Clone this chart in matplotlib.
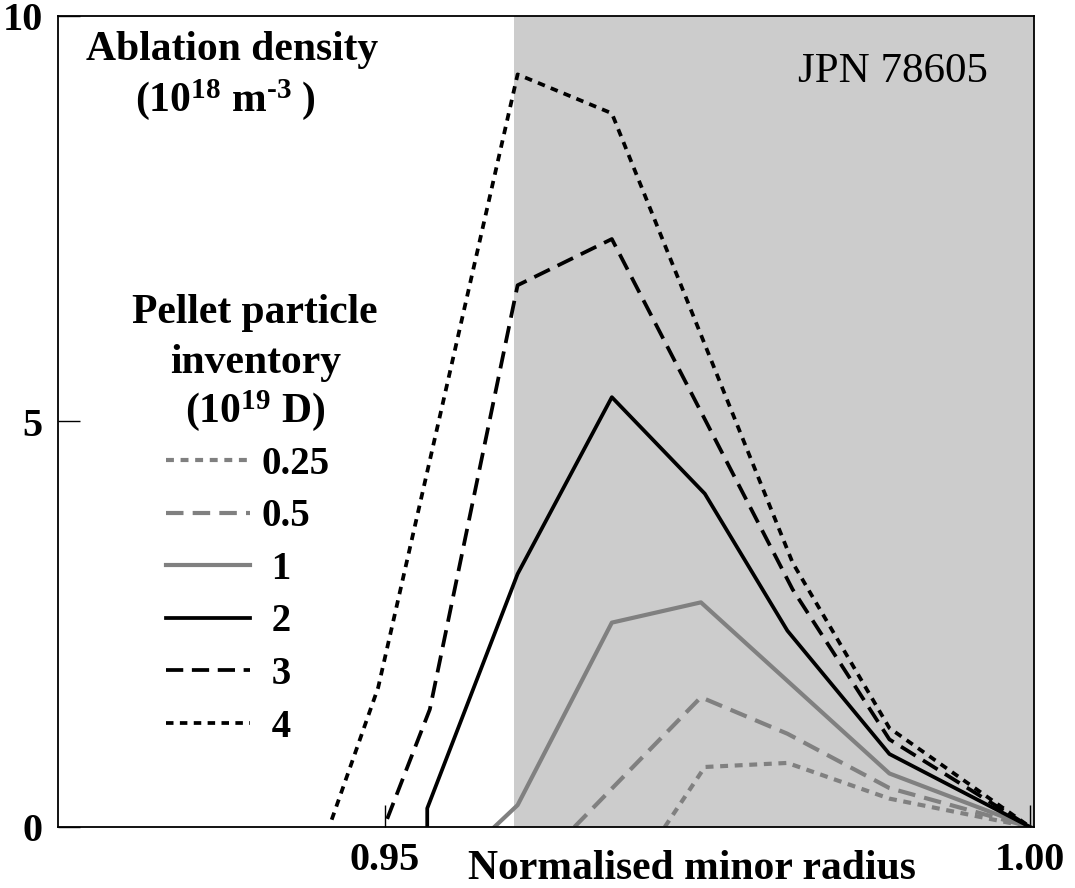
import matplotlib
matplotlib.use("Agg")
import matplotlib.pyplot as plt

plt.rcParams['font.family'] = ['Liberation Serif', 'DejaVu Serif']
plt.rcParams['font.weight'] = 'bold'
plt.rcParams['mathtext.fontset'] = 'custom'
plt.rcParams['mathtext.rm'] = 'Liberation Serif:bold'
plt.rcParams['mathtext.bf'] = 'Liberation Serif:bold'
plt.rcParams['mathtext.it'] = 'Liberation Serif:bold:italic'

# normalised minor radius / ablation density (1e18 m^-3), per pellet inventory (1e19 D)
r_025 = [0.9717, 0.9748, 0.9812, 0.9891, 1.0]
n_025 = [0.0, 0.74, 0.79, 0.35, 0.0]
r_05 = [0.9647, 0.9745, 0.9812, 0.9891, 1.0]
n_05 = [0.0, 1.60, 1.15, 0.48, 0.0]
r_1 = [0.9585, 0.9603, 0.9676, 0.9745, 0.9891, 1.0]
n_1 = [0.0, 0.27, 2.52, 2.77, 0.66, 0.0]
r_2 = [0.9533, 0.9533, 0.9603, 0.9676, 0.9748, 0.9812, 0.9891, 1.0]
n_2 = [0.0, 0.23, 3.12, 5.30, 4.11, 2.42, 0.90, 0.0]
r_3 = [0.9502, 0.9535, 0.9603, 0.9676, 0.9816, 0.9891, 1.0]
n_3 = [0.10, 1.45, 6.68, 7.25, 2.93, 1.08, 0.0]
r_4 = [0.9459, 0.9495, 0.9603, 0.9676, 0.9816, 0.9891, 1.0]
n_4 = [0.09, 1.72, 9.28, 8.80, 3.26, 1.22, 0.0]

labels = ['0.25', '0.5', ' 1', ' 2', ' 3', ' 4']
shade_start = 0.96

grey = '#808080'
fig = plt.figure(figsize=(10.75, 8.88), dpi=100)
ax = fig.add_axes([58/1075, 1 - 827/888, (1034 - 58)/1075, (827 - 16)/888])

ax.axvspan(shade_start, 1.0003, ymin=0.0, ymax=1.0, color='#cccccc', lw=0, zorder=0)

h = []
h += ax.plot(r_025, n_025, color=grey, lw=3.0, ls=(0, (1.9, 1.6)))
h += ax.plot(r_05, n_05, color=grey, lw=3.0, ls=(0, (4.2, 2.2)))
h += ax.plot(r_1, n_1, color=grey, lw=3.0)
h += ax.plot(r_2, n_2, color='black', lw=2.7)
h += ax.plot(r_3, n_3, color='black', lw=2.7, ls=(0, (4.6, 2.3)))
h += ax.plot(r_4, n_4, color='black', lw=2.7, ls=(0, (2.0, 1.7)))

ax.set_xlim(0.9247, 1.0003)
ax.set_ylim(0, 10)
ax.set_xticks([0.95, 1.00])
ax.set_xticklabels(['0.95', '1.00'])
ax.set_yticks([0, 5, 10])
ax.tick_params(direction='in', length=16, width=1, labelsize=29, pad=11)
for s in ax.spines.values():
    s.set_linewidth(1.3)

ax.set_xlabel('Normalised minor radius', fontsize=30, fontweight='bold')
ax.xaxis.set_label_coords(0.65, -0.028)

ax.text(0.178, 0.958, 'Ablation density', transform=ax.transAxes,
        ha='center', va='center', fontsize=30)
ax.text(0.172, 0.897, r'(10$^{18}$ m$^{\text{-}3}$ )', transform=ax.transAxes,
        ha='center', va='center', fontsize=30)
ax.text(0.202, 0.634, 'Pellet particle', transform=ax.transAxes,
        ha='center', va='center', fontsize=30)
ax.text(0.202, 0.572, 'inventory', transform=ax.transAxes,
        ha='center', va='center', fontsize=30)
ax.text(0.202, 0.514, r'(10$^{19}$ D)', transform=ax.transAxes,
        ha='center', va='center', fontsize=30)
ax.text(0.953, 0.931, 'JPN 78605', transform=ax.transAxes,
        ha='right', va='center', fontsize=31, fontweight='normal')

ax.legend(h, labels, loc='upper left', bbox_to_anchor=(0.111, 0.47),
          frameon=False, fontsize=28, handlelength=2.15, handletextpad=0.3,
          labelspacing=0.40, borderpad=0, borderaxespad=0)

fig.savefig('out.png', dpi=100)
